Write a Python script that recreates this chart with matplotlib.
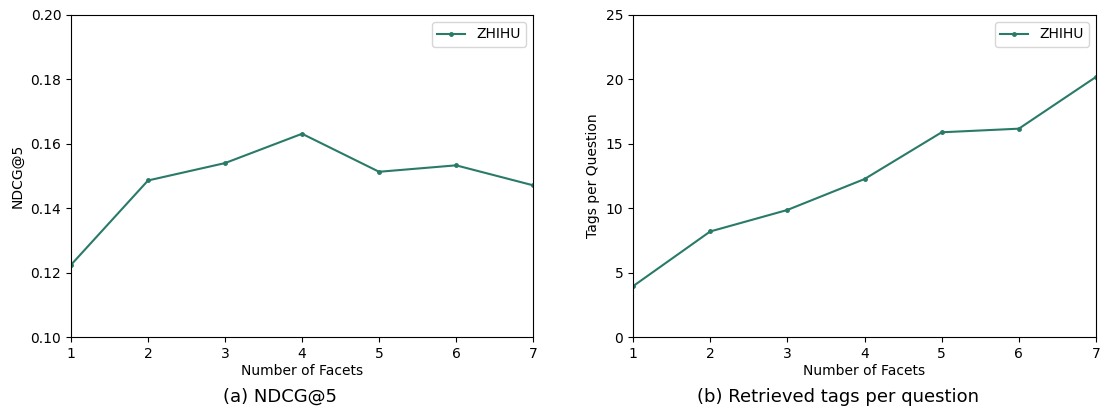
import matplotlib
matplotlib.use("Agg")
import matplotlib.pyplot as plt

# facets vs metrics on ZHIHU
facets = [1, 2, 3, 4, 5, 6, 7]
ndcg5 = [0.1224, 0.1486, 0.1540, 0.1631, 0.1513, 0.1533, 0.1471]
tags_per_q = [3.94, 8.19, 9.86, 12.26, 15.89, 16.17, 20.19]

color = '#2a7a68'

fig = plt.figure(figsize=(11.06, 4.12), dpi=100)

ax1 = fig.add_axes([0.0642, 0.182, 0.4178, 0.7818])
ax1.plot(facets, ndcg5, marker='o', markersize=2.5, linewidth=1.5, color=color, label='ZHIHU')
ax1.set_xlim(1, 7)
ax1.set_ylim(0.10, 0.20)
ax1.set_xlabel('Number of Facets', fontsize=10, labelpad=2)
ax1.set_ylabel('NDCG@5', fontsize=10)
ax1.tick_params(labelsize=10)
ax1.legend(loc='upper right', fontsize=10)

ax2 = fig.add_axes([0.5723, 0.182, 0.4187, 0.7818])
ax2.plot(facets, tags_per_q, marker='o', markersize=2.5, linewidth=1.5, color=color, label='ZHIHU')
ax2.set_xlim(1, 7)
ax2.set_ylim(0, 25)
ax2.set_xlabel('Number of Facets', fontsize=10, labelpad=2)
ax2.set_ylabel('Tags per Question', fontsize=10)
ax2.tick_params(labelsize=10)
ax2.legend(loc='upper right', fontsize=10)

fig.text(0.2535, 0.036, '(a) NDCG@5', ha='center', va='center', fontsize=13)
fig.text(0.7575, 0.036, '(b) Retrieved tags per question', ha='center', va='center', fontsize=13)

fig.savefig('out.png', dpi=100)
